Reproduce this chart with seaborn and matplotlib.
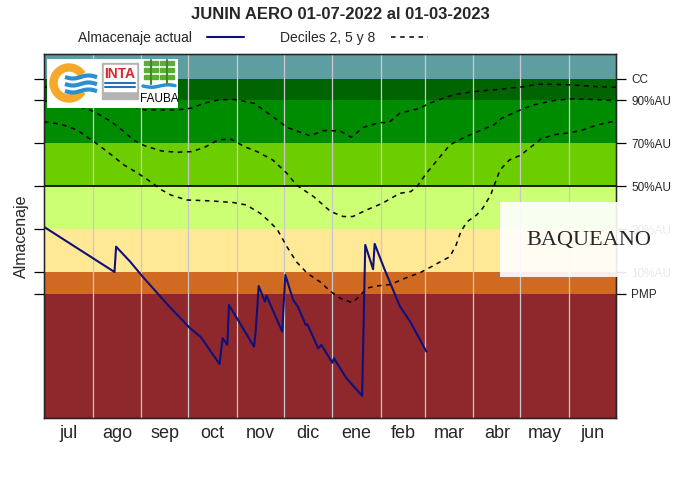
import numpy as np
import pandas as pd
import matplotlib
matplotlib.use("Agg")
import matplotlib.pyplot as plt
import seaborn as sns
from matplotlib.patches import Rectangle, Wedge
from matplotlib.lines import Line2D

titulo = "JUNIN AERO 01-07-2022 al 01-03-2023"
meses = ["jul", "ago", "sep", "oct", "nov", "dic", "ene", "feb", "mar", "abr", "may", "jun"]
niveles = ["CC", "90%AU", "70%AU", "50%AU", "30%AU", "10%AU", "PMP"]
niveles_valor = [100, 90, 70, 50, 30, 10, 0]

# bandas de agua util (limites en %AU) y sus colores
bandas_lim = [-60, 0, 10, 30, 50, 70, 90, 100, 115]
bandas_col = ["#8E282C", "#D06A22", "#FFE896", "#CDFF74", "#6CCD00", "#008C00", "#006400", "#5F9EA0"]

# almacenaje actual: dias desde 01-07-2022 y %AU
act_dia = [0, 45, 46, 55, 63, 80, 93, 100, 112, 114, 117, 118, 134, 135, 137, 141, 142, 145,
           152, 154, 159, 162, 167, 168, 175, 177, 184, 185, 193, 203, 205, 210, 211, 217,
           227, 234, 244]
act_val = [31.2, 10.2, 22.0, 15.0, 8.0, -5.9, -15.8, -20.0, -32.6, -20.6, -23.7, -5.1, -24.5,
           -18.1, 3.7, -3.6, -0.9, -5.9, -17.5, 8.8, -2.8, -5.9, -14.4, -14.0, -25.3, -23.7,
           -32.0, -29.9, -39.2, -47.4, 22.8, 11.5, 23.3, 12.0, -5.6, -13.3, -26.8]

# deciles historicos
dec2_dia = [0, 11, 21, 32, 43, 51, 60, 68, 75, 81, 91, 106, 121, 129, 138, 144, 149, 155, 161,
            168, 176, 183, 189, 195, 197, 202, 206, 212, 221, 231, 240, 248, 253, 259, 263,
            266, 270, 276, 280, 285, 287, 291, 297, 304, 311, 317, 325, 336, 344, 353, 365]
dec2_val = [80.1, 78.9, 76.3, 70.8, 64.7, 60.0, 56.1, 52.2, 48.4, 46.0, 43.7, 43.3, 42.5, 41.4,
            37.5, 33.6, 29.8, 22.0, 15.0, 9.6, 5.7, 1.1, -2.0, -3.6, -4.0, -0.5, 2.7, 3.7, 4.4,
            7.5, 9.9, 13.0, 15.0, 17.3, 22.8, 29.0, 33.6, 36.7, 39.9, 46.0, 49.9, 57.7, 62.3,
            64.5, 68.5, 72.0, 74.0, 75.0, 76.3, 78.6, 80.5]

dec5_dia = [0, 13, 26, 32, 43, 51, 57, 64, 75, 85, 94, 102, 111, 119, 128, 136, 146, 155, 161,
            172, 183, 191, 197, 206, 216, 227, 234, 238, 244, 251, 259, 266, 274, 287, 292,
            304, 312, 325, 336, 346, 357, 365]
dec5_val = [89.8, 88.8, 86.4, 84.8, 80.1, 75.5, 71.6, 69.0, 66.5, 65.9, 66.2, 68.0, 71.6, 72.1,
            68.5, 66.2, 62.3, 56.1, 50.7, 45.3, 38.3, 36.0, 36.0, 39.1, 42.2, 46.8, 47.6, 49.9,
            56.1, 62.3, 69.3, 72.0, 74.7, 78.6, 81.7, 85.6, 87.9, 89.9, 90.7, 90.6, 90.2, 89.8]

dec8_dia = [0, 17, 36, 52, 64, 75, 85, 94, 102, 111, 121, 134, 146, 155, 170, 178, 189, 196,
            204, 214, 220, 227, 240, 246, 261, 274, 291, 306, 314, 325, 338, 353, 365]
dec8_val = [96.3, 94.4, 91.6, 88.4, 85.6, 85.6, 85.6, 86.4, 88.7, 90.2, 90.5, 88.7, 82.5, 77.5,
            73.5, 76.0, 75.8, 72.9, 77.5, 79.7, 79.7, 84.0, 86.4, 88.7, 92.6, 94.1, 95.2, 96.4,
            97.5, 97.5, 97.2, 96.4, 96.1]

inicio = pd.Timestamp("2022-07-01")
fin = pd.Timestamp("2023-07-01")


def a_fecha(dias):
    return inicio + pd.to_timedelta(dias, unit="D")


actual = pd.DataFrame({"fecha": a_fecha(act_dia), "au": act_val})
deciles = [pd.DataFrame({"fecha": a_fecha(d), "au": v})
           for d, v in [(dec2_dia, dec2_val), (dec5_dia, dec5_val), (dec8_dia, dec8_val)]]

sns.set_style("white")
plt.rcParams["font.family"] = ["Liberation Sans", "DejaVu Sans"]

fig = plt.figure(figsize=(6.8, 4.8), dpi=100)
ax = fig.add_axes([44 / 680, 1 - 418 / 480, 572 / 680, 364 / 480])

for i, col in enumerate(bandas_col):
    ax.axhspan(bandas_lim[i], bandas_lim[i + 1], color=col, lw=0, zorder=0)

inicios_mes = pd.date_range(inicio, fin, freq="MS")
for f in inicios_mes[1:-1]:
    ax.axvline(f, color="#C9C9C9", lw=0.9, zorder=1)
ax.axhline(50, color="black", lw=1.2, zorder=2)

for df in deciles:
    sns.lineplot(data=df, x="fecha", y="au", ax=ax, color="black", lw=1.1,
                 linestyle=(0, (3, 3)), estimator=None, sort=False, zorder=3)
sns.lineplot(data=actual, x="fecha", y="au", ax=ax, color="#10107A", lw=1.5,
             estimator=None, sort=False, zorder=4)

ax.set_xlim(inicio, fin)
ax.set_ylim(-57.7, 111.6)
centros = inicios_mes[:-1] + (inicios_mes[1:] - inicios_mes[:-1]) / 2
ax.set_xticks(centros)
ax.set_xticklabels(meses, fontsize=13)
ax.tick_params(axis="x", length=0, pad=5)
ax.set_yticks(niveles_valor)
ax.set_yticklabels([])
ax.tick_params(axis="y", direction="out", length=7, width=0.9, color="black", left=True)
ax.set_xlabel("")
ax.set_ylabel("Almacenaje", fontsize=11.5)
ax.yaxis.set_label_coords(-0.026, 0.5)
for s in ax.spines.values():
    s.set_color("black")
    s.set_linewidth(1.0)

ax2 = ax.twinx()
ax2.set_ylim(ax.get_ylim())
ax2.set_yticks(niveles_valor)
ax2.set_yticklabels(niveles, fontsize=8.5)
ax2.tick_params(axis="y", direction="out", length=7, width=0.9, color="black", right=True, pad=4)
ax2.grid(False)
ax.grid(False)

fig.suptitle(titulo, x=340 / 680, y=0.985, fontsize=12, fontweight="bold")
manejadores = [Line2D([], [], color="#10107A", lw=1.5),
               Line2D([], [], color="black", lw=1.1, linestyle=(0, (3, 3)))]
fig.legend(manejadores, ["Almacenaje actual", "Deciles 2, 5 y 8"], ncol=2, markerfirst=False,
           loc="center", bbox_to_anchor=(0.372, 0.921), frameon=False, fontsize=10,
           handlelength=2.7, handletextpad=1.1, columnspacing=2.6, borderpad=0)

# logos (aproximados)
lg = fig.add_axes([47 / 680, 1 - 108 / 480, 131 / 680, 49 / 480])
lg.set_xlim(0, 131)
lg.set_ylim(49, 0)
lg.axis("off")
lg.add_patch(Rectangle((0, 0), 131, 49, color="white"))
lg.add_patch(Wedge((22, 24), 19, 35, 325, width=7, color="#F5A92A"))
xs = np.linspace(18, 50, 40)
for yy in (18, 25, 32):
    lg.plot(xs, yy + 1.5 * np.sin((xs - 18) / 5), color="#2B8FD2", lw=3, solid_capstyle="butt")
lg.add_patch(Rectangle((55, 4), 36, 36, color="#B4B4B4"))
lg.add_patch(Rectangle((57, 6), 32, 26, color="white"))
lg.text(73, 15, "INTA", color="#D8262E", fontsize=10, fontweight="bold", ha="center", va="center")
lg.plot([58, 88], [24, 24], color="#2B6FB5", lw=1.5)
lg.plot([58, 88], [28, 28], color="#2B6FB5", lw=1.5)
for cx in (104, 120):
    for yy in (2, 9, 16):
        lg.add_patch(Rectangle((cx - 7, yy), 14, 4, color="#5BAE33"))
    lg.plot([cx, cx], [1, 25], color="#3C8C2A", lw=1.5)
lg.plot(np.linspace(96, 128, 30), 27 + 1.2 * np.sin(np.linspace(0, 6, 30)), color="#2B8FD2", lw=2.5)
lg.text(112, 40, "FAUBA", color="black", fontsize=8.5, ha="center", va="center")

# marca BAQUEANO
fig.add_artist(Rectangle((500 / 680, 1 - 277 / 480), 180 / 680, 75 / 480,
                         transform=fig.transFigure, facecolor="white", alpha=0.9,
                         lw=0, zorder=10))
fig.text(589 / 680, 1 - 240 / 480, "BAQUEANO", family=["Liberation Serif", "DejaVu Serif"],
         fontsize=16, ha="center", va="center", zorder=11)

fig.savefig("out.png", dpi=100)
